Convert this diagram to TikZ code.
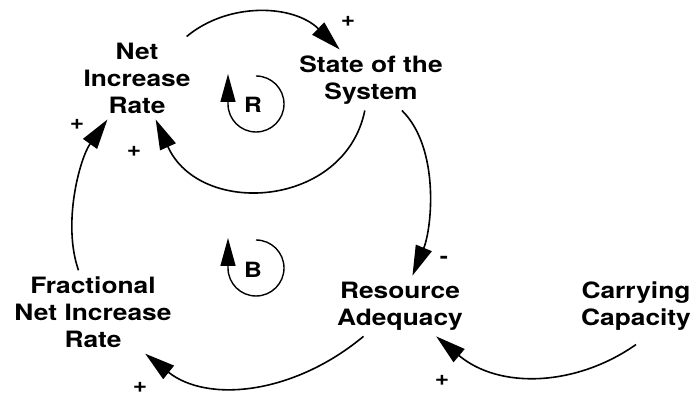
\documentclass[tikz,border=0pt]{standalone}
\usepackage{fontspec}
\newfontfamily\lblfont{TeX Gyre Heros}[FakeStretch=1.17]
\usetikzlibrary{arrows.meta}
\tikzset{
  var/.style={font={\lblfont\bfseries\fontsize{22.5}{27}\selectfont}, align=center, inner sep=6pt},
  link/.style={line width=1.6pt, arrows={-Triangle[length=30pt,width=17pt]}},
  pol/.style={font={\lblfont\bfseries\fontsize{21}{21}\selectfont}, inner sep=0pt},
  loopsym/.style={font={\lblfont\bfseries\fontsize{21}{21}\selectfont}, inner sep=0pt},
  looparc/.style={line width=1.4pt, arrows={-Triangle[length=28pt,width=15pt]}}
}
\begin{document}
\begin{tikzpicture}[x=1pt,y=1pt]
\useasboundingbox (0,0) rectangle (695,398);
\node[var] (nir) at (137,320) {Net\\Increase\\Rate};
\node[var] (sos) at (371,318) {State of the\\System};
\node[var] (fnir) at (93,86) {Fractional\\Net Increase\\Rate};
\node[var] (ra) at (400,92) {Resource\\Adequacy};
\node[var] (cc) at (636,92) {Carrying\\Capacity};

\draw[link] (nir) .. controls (228,396) and (293,394) .. (sos);
\draw[link] (sos) .. controls (345,190) and (200,180) .. (nir);
\draw[link] (sos) .. controls (440,250) and (432,170) .. (ra);
\draw[link] (ra) .. controls (293,3) and (207,-5) .. (fnir);
\draw[link] (fnir) .. controls (62,175) and (80,240) .. (nir);
\draw[link] ([yshift=-8pt]cc.south) .. controls (577,12) and (500,8) .. (ra);

\node[pol] (p1) at (348,377) {+};
\node[pol] (p2) at (134,247) {+};
\node[pol] (p3) at (77,274) {+};
\node[pol] (m1) at (444,138) {-};
\node[pol] (p4) at (140,11) {+};
\node[pol] (p5) at (442,18) {+};

\draw[looparc] (256,294) ++(90:28) arc (90:-180:28) -- ++(0,30);
\node[loopsym] (R) at (253,293) {R};
\draw[looparc] (256,130) ++(90:28) arc (90:-180:28) -- ++(0,30);
\node[loopsym] (B) at (253,128) {B};
\end{tikzpicture}
\end{document}
